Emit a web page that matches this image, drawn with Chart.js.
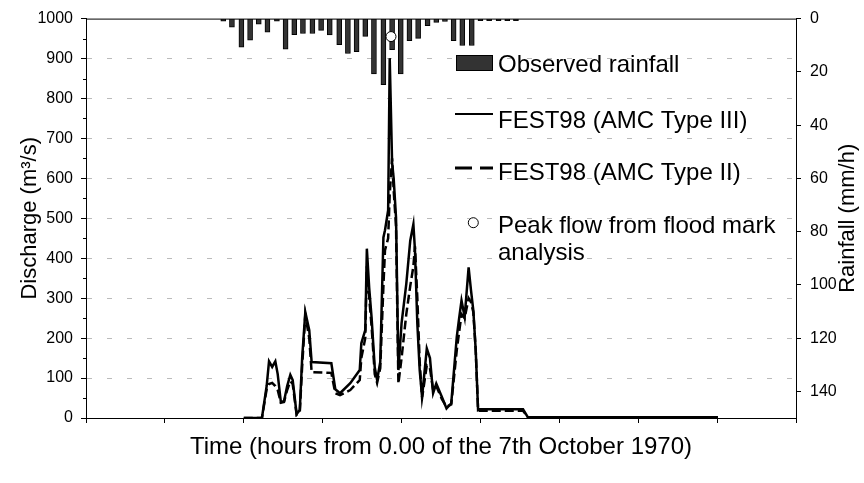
<!DOCTYPE html>
<html>
<head>
<meta charset="utf-8">
<script src="https://cdn.jsdelivr.net/npm/chart.js@4.4.1/dist/chart.umd.min.js"></script>
<style>
  html, body { margin: 0; padding: 0; background: #fff; }
</style>
</head>
<body>
<canvas id="hydro" width="864" height="483"></canvas>
<script>
// time axis (hours, ticks every 10 h, no labels)
const times = [
  20.0, 22.3, 22.9, 23.2, 23.6, 24.0, 24.3, 24.7, 25.1, 25.5,
  25.9, 26.2, 26.7, 27.1, 27.4, 27.8, 28.3, 28.6, 31.1, 31.6,
  32.2, 33.5, 34.7, 34.9, 35.4, 35.6, 35.9, 36.2, 36.6, 36.9,
  37.3, 37.7, 37.9, 38.3, 38.5, 38.8, 39.0, 39.3, 39.6, 40.0,
  40.6, 41.1, 41.5, 41.7, 42.0, 42.3, 42.6, 43.2, 43.6, 44.0,
  44.4, 45.1, 45.7, 46.3, 47.0, 47.3, 47.6, 48.0, 48.5, 48.8,
  49.1, 49.4, 49.7, 49.9, 55.4, 56.0, 80.1
];
const amcIII = [
  0, 0, 80, 142, 128, 142, 110, 40, 42, 80,
  108, 95, 10, 20, 150, 265, 220, 140, 137, 72,
  62, 87, 120, 187, 220, 424, 325, 252, 127, 95,
  140, 452, 470, 520, 901, 640, 600, 502, 120, 237,
  336, 444, 485, 420, 236, 120, 53, 174, 150, 62,
  86, 53, 24, 37, 203, 250, 294, 253, 377, 320,
  269, 170, 20, 22, 22, 2, 2
];
const amcII = [
  0, 0, 72, 85, 88, 80, 70, 38, 40, 70,
  92, 85, 8, 15, 130, 258, 200, 115, 113, 62,
  57, 70, 95, 150, 200, 380, 300, 230, 110, 88,
  125, 330, 420, 450, 560, 650, 570, 480, 86, 150,
  260, 330, 380, 430, 300, 140, 50, 132, 125, 70,
  80, 48, 28, 34, 170, 215, 260, 250, 300, 290,
  265, 170, 20, 18, 18, 2, 2
];

// observed rainfall (mm/h), right axis
const rainTimes = [
  17.4, 18.5, 19.7, 20.8, 21.9, 23.0, 24.2, 25.3, 26.4, 27.5,
  28.7, 29.8, 30.9, 32.1, 33.2, 34.3, 35.4, 36.5, 37.7, 38.8,
  39.9, 41.0, 42.1, 43.3, 44.4, 45.5, 46.6, 47.7, 48.9, 50.0,
  51.1, 52.3, 53.4, 54.5
];
const rainfall = [
  1, 3.2, 10.7, 8.1, 2.1, 5.1, 1, 11.5, 6, 5.6,
  5.6, 4.4, 6.1, 9.8, 13.1, 12.4, 6.7, 20.8, 24.8, 11.7,
  20.8, 8.3, 7.4, 2.7, 1.4, 1.1, 8.3, 10.1, 10.1, 0.8,
  0.8, 0.8, 0.8, 0.8
];

const peakTime = [38.66];
const peakFlow = [955];

const dischargeTicks = [0, 100, 200, 300, 400, 500, 600, 700, 800, 900, 1000];
const rainTicks = [0, 20, 40, 60, 80, 100, 120, 140];

const FONT = '"Liberation Sans", Arial, sans-serif';
Chart.defaults.font.family = FONT;
Chart.defaults.color = '#000';

const pts = (xs, ys) => xs.map((x, i) => ({ x: x, y: ys[i] }));

// extra drawing: top frame, minor ticks, right title, legend box
const decorations = {
  id: 'decorations',
  afterDraw(chart) {
    const { ctx, chartArea: a, scales } = chart;
    ctx.save();
    ctx.strokeStyle = '#000';
    ctx.lineWidth = 1;
    ctx.beginPath();
    ctx.moveTo(a.left, a.top + 0.5);
    ctx.lineTo(a.right, a.top + 0.5);
    ctx.stroke();

    // minor ticks on discharge axis
    for (let i = 0; i < dischargeTicks.length - 1; i++) {
      const v = (dischargeTicks[i] + dischargeTicks[i + 1]) / 2;
      const y = Math.round(scales.y.getPixelForValue(v)) + 0.5;
      ctx.beginPath();
      ctx.moveTo(a.left - 3, y);
      ctx.lineTo(a.left + 1, y);
      ctx.stroke();
    }

    // right axis title, reading bottom to top
    ctx.font = '22px ' + FONT;
    ctx.fillStyle = '#000';
    ctx.textAlign = 'center';
    ctx.textBaseline = 'middle';
    ctx.translate(848, (a.top + a.bottom) / 2);
    ctx.rotate(-Math.PI / 2);
    ctx.fillText('Rainfall (mm/h)', 0, 0);
    ctx.restore();

    // legend
    ctx.save();
    ctx.font = '24px ' + FONT;
    ctx.textAlign = 'left';
    ctx.textBaseline = 'alphabetic';

    ctx.fillStyle = '#333';
    ctx.fillRect(456, 55, 37, 16);
    ctx.strokeStyle = '#000';
    ctx.lineWidth = 1;
    ctx.strokeRect(456.5, 55.5, 36, 15);
    ctx.fillStyle = '#000';
    ctx.fillText('Observed rainfall', 498, 72);

    ctx.lineWidth = 2;
    ctx.beginPath();
    ctx.moveTo(455, 114);
    ctx.lineTo(493, 114);
    ctx.stroke();
    ctx.fillText('FEST98 (AMC Type III)', 498, 128);

    ctx.lineWidth = 3;
    ctx.setLineDash([17, 8]);
    ctx.beginPath();
    ctx.moveTo(455, 168);
    ctx.lineTo(493, 168);
    ctx.stroke();
    ctx.setLineDash([]);
    ctx.fillText('FEST98 (AMC Type II)', 498, 180);

    ctx.lineWidth = 1;
    ctx.beginPath();
    ctx.arc(473.3, 222.7, 5, 0, Math.PI * 2);
    ctx.fillStyle = '#fff';
    ctx.fill();
    ctx.stroke();
    ctx.fillStyle = '#000';
    ctx.fillText('Peak flow from flood mark', 498, 233);
    ctx.fillText('analysis', 498, 260);
    ctx.restore();
  }
};

new Chart(document.getElementById('hydro'), {
  type: 'line',
  data: {
    datasets: [
      {
        type: 'line',
        label: 'Peak flow from flood mark analysis',
        data: pts(peakTime, peakFlow),
        showLine: false,
        pointRadius: 5,
        pointBackgroundColor: '#fff',
        pointBorderColor: '#000',
        pointBorderWidth: 1,
        yAxisID: 'y',
        order: 0
      },
      {
        type: 'line',
        label: 'FEST98 (AMC Type III)',
        data: pts(times, amcIII),
        borderColor: '#000',
        borderWidth: 2.5,
        pointRadius: 0,
        tension: 0,
        yAxisID: 'y',
        order: 1
      },
      {
        type: 'line',
        label: 'FEST98 (AMC Type II)',
        data: pts(times, amcII),
        borderColor: '#000',
        borderWidth: 2.5,
        borderDash: [9, 4],
        pointRadius: 0,
        tension: 0,
        yAxisID: 'y',
        order: 2
      },
      {
        type: 'bar',
        label: 'Observed rainfall',
        data: pts(rainTimes, rainfall),
        backgroundColor: '#333',
        borderColor: '#000',
        borderWidth: 1,
        barThickness: 5,
        yAxisID: 'y2',
        order: 3
      }
    ]
  },
  options: {
    responsive: false,
    animation: false,
    devicePixelRatio: 1,
    layout: { padding: { top: 16, left: 0, right: 0, bottom: 0 } },
    plugins: {
      legend: { display: false },
      tooltip: { enabled: false }
    },
    scales: {
      x: {
        type: 'linear',
        min: 0,
        max: 90,
        offset: false,
        ticks: { display: false, stepSize: 10 },
        grid: {
          offset: false,
          drawOnChartArea: false,
          tickLength: 5,
          tickColor: '#000'
        },
        border: { color: '#000', width: 1 },
        title: {
          display: true,
          text: 'Time (hours from 0.00 of the 7th October 1970)',
          font: { size: 24 },
          padding: { top: 0, bottom: 21 }
        },
        afterFit: s => { s.height = 65; }
      },
      y: {
        type: 'linear',
        position: 'left',
        min: 0,
        max: 1000,
        afterBuildTicks: s => { s.ticks = dischargeTicks.map(v => ({ value: v })); },
        ticks: { font: { size: 16 }, padding: 8, callback: v => String(v) },
        grid: {
          color: c => (c.tick && (c.tick.value === 0 || c.tick.value === 1000)) ? 'rgba(0,0,0,0)' : '#bbbbbb',
          tickColor: '#000',
          tickLength: 5
        },
        border: { color: '#000', width: 1, dash: [5, 15] },
        title: {
          display: true,
          text: 'Discharge (m³/s)',
          font: { size: 22 },
          padding: { top: 17, bottom: 0 }
        },
        afterFit: s => { s.width = 86; }
      },
      y2: {
        type: 'linear',
        position: 'right',
        min: 0,
        max: 150,
        reverse: true,
        afterBuildTicks: s => { s.ticks = rainTicks.map(v => ({ value: v })); },
        ticks: { font: { size: 16 }, padding: 9, callback: v => String(v) },
        grid: {
          drawOnChartArea: false,
          tickColor: '#000',
          tickLength: 5
        },
        border: { color: '#000', width: 1 },
        afterFit: s => { s.width = 68; }
      }
    }
  },
  plugins: [decorations]
});
</script>
</body>
</html>
